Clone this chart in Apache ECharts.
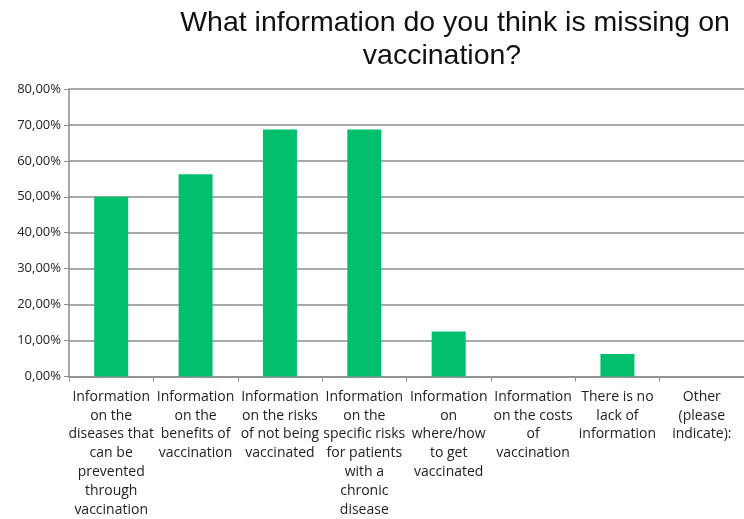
<!DOCTYPE html>
<html><head><meta charset="utf-8">
<script src="https://cdn.jsdelivr.net/npm/echarts@6/dist/echarts.min.js"></script>
<style>html,body{margin:0;padding:0;background:#fff}#c{width:744px;height:519px}</style>
</head><body><div id="c"></div>
<script>
const titleLine1 = "What information do you think is missing on";
const titleLine2 = "vaccination?";
const categories = [
  "Information\non the\ndiseases that\ncan be\nprevented\nthrough\nvaccination",
  "Information\non the\nbenefits of\nvaccination",
  "Information\non the risks\nof not being\nvaccinated",
  "Information\non the\nspecific risks\nfor patients\nwith a\nchronic\ndisease",
  "Information\non\nwhere/how\nto get\nvaccinated",
  "Information\non the costs\nof\nvaccination",
  "There is no\nlack of\ninformation",
  "Other\n(please\nindicate):"
];
const values = [50, 56.25, 68.75, 68.75, 12.5, 0, 6.25, 0];
const yMin = 0, yMax = 80, yStep = 10;

const chart = echarts.init(document.getElementById('c'), null, {renderer:'canvas'});
const labelFont = "'Open Sans', sans-serif";
const titleStyle = {fontFamily:"'Liberation Sans', Arial, sans-serif",fontSize:28.5,fontWeight:'normal',color:'#111'};
chart.setOption({
  animation:false,
  title:[
    {text:titleLine1,left:450,top:4,textAlign:'center',textStyle:titleStyle},
    {text:titleLine2,left:437,top:37,textAlign:'center',textStyle:titleStyle}
  ],
  grid:{left:69,right:-5,top:89,bottom:137,containLabel:false},
  xAxis:{type:'category',data:categories,
    axisLine:{lineStyle:{color:'#8c8c8c',width:1.5}},
    axisTick:{show:true,alignWithLabel:false,length:5,lineStyle:{color:'#8c8c8c'}},
    axisLabel:{interval:0,margin:11,fontFamily:labelFont,fontSize:14,color:'#222',lineHeight:18.8,align:'center'}},
  yAxis:{type:'value',min:yMin,max:yMax,interval:yStep,
    axisLine:{show:true,lineStyle:{color:'#8c8c8c',width:1.5}},
    axisTick:{show:true,length:5,lineStyle:{color:'#8c8c8c'}},
    splitLine:{lineStyle:{color:'#8c8c8c',width:1.5}},
    axisLabel:{margin:8,fontFamily:labelFont,fontSize:13,color:'#222',
      formatter:v=>v.toFixed(2).replace('.',',')+'%'}},
  series:[{type:'bar',data:values,barWidth:34,itemStyle:{color:'#02bf6e'}}]
});
</script></body></html>
